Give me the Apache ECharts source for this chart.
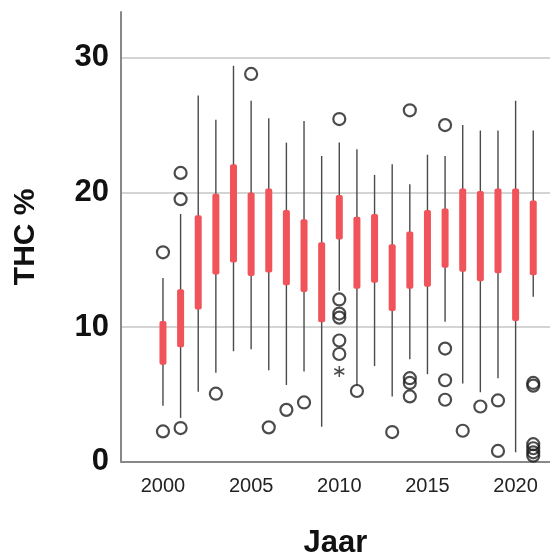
<!DOCTYPE html>
<html>
<head>
<meta charset="utf-8">
<script src="https://cdn.jsdelivr.net/npm/echarts@6/dist/echarts.min.js"></script>
<style>
html,body{margin:0;padding:0;background:#fff;}
#chart{width:550px;height:557px;}
</style>
</head>
<body>
<div id="chart"></div>
<script>
// Box data per year: whisker low, Q1, Q3, whisker high
const years      = [2000,2001,2002,2003,2004,2005,2006,2007,2008,2009,2010,2011,2012,2013,2014,2015,2016,2017,2018,2019,2020,2021];
const whiskerLow = [4.15,3.25,5.2,6.6,8.2,8.35,6.8,5.7,6.7,2.6,12.7,5.7,7.1,4.85,7.6,6.5,10.4,5.8,5.15,6.2,0.7,12.25];
const q1         = [7.2,8.5,11.3,13.9,14.8,13.8,14.05,13.1,12.6,10.35,16.5,12.85,13.3,11.2,12.85,13.0,14.4,14.1,13.4,14.0,10.45,13.85];
const q3         = [10.45,12.8,18.3,19.9,22.1,20.0,20.3,18.7,18.0,16.3,19.8,18.2,18.4,16.15,17.1,18.7,18.8,20.3,20.1,20.3,20.3,19.4];
const whiskerHigh= [13.65,18.4,27.2,25.4,29.4,26.8,25.5,23.7,25.3,22.7,23.7,23.2,21.3,22.1,20.6,22.8,22.7,25.0,24.6,24.6,26.8,24.6];

// Outliers (circles) as [year, value]
const outliers = [
  [2000,15.55],[2000,2.25],
  [2001,21.45],[2001,19.5],[2001,2.5],
  [2003,5.05],
  [2005,28.8],
  [2006,2.55],
  [2007,3.85],
  [2008,4.4],
  [2010,25.45],[2010,12.05],[2010,11.0],[2010,10.7],[2010,9.0],[2010,8.0],
  [2011,5.25],
  [2013,2.2],
  [2014,26.1],[2014,6.2],[2014,5.85],[2014,4.85],
  [2016,25.0],[2016,8.4],[2016,6.05],[2016,4.6],
  [2017,2.3],
  [2018,4.1],
  [2019,4.55],[2019,0.8],
  [2021,5.85],[2021,5.65],[2021,1.3],[2021,1.0],[2021,0.7],[2021,0.45]
];
// Extreme values (asterisk) as [year, value]
const extremes = [[2010,6.7]];

const yTicks = [0,10,20,30];
const xLabels = [2000,2005,2010,2015,2020];

const boxData = years.map((y,i)=>[y, whiskerLow[i], q1[i], q3[i], whiskerHigh[i]]);
const FONT = '"Liberation Sans", Arial, Helvetica, sans-serif';

const chart = echarts.init(document.getElementById('chart'), null, {renderer:'canvas'});
chart.setOption({
  animation:false,
  backgroundColor:'#fff',
  grid:{left:121, right:0, top:12, bottom:95.3, containLabel:false, outerBoundsMode:'none'},
  xAxis:{
    type:'value', min:1997.62, max:2021.95,
    name:'Jaar', nameLocation:'middle', nameGap:66,
    nameTextStyle:{fontSize:31, fontWeight:'bold', color:'#111', fontFamily:FONT},
    axisLine:{show:true, onZero:false, lineStyle:{color:'#888', width:2}},
    axisTick:{show:false},
    splitLine:{show:false},
    axisLabel:{customValues:xLabels, formatter:v=>String(v), fontSize:20, color:'#222', margin:15, fontFamily:FONT}
  },
  yAxis:{
    type:'value', min:0, max:33.4, interval:10,
    name:'THC %', nameLocation:'middle', nameGap:80,
    nameTextStyle:{fontSize:30, fontWeight:'bold', color:'#111', fontFamily:FONT},
    axisLine:{show:true, onZero:false, lineStyle:{color:'#888', width:2}},
    axisTick:{show:false},
    splitLine:{show:true, showMaxLine:false, showMinLine:false, lineStyle:{color:'#d4d4d4', width:2}},
    axisLabel:{formatter:v=>(yTicks.indexOf(v)>=0?String(v):''), fontSize:31, fontWeight:'bold', color:'#111', margin:12, fontFamily:FONT}
  },
  series:[
    {
      type:'custom',
      data:boxData,
      encode:{x:0, y:[1,2,3,4]},
      z:2,
      renderItem:function(params, api){
        const x = api.value(0);
        const lo = api.coord([x, api.value(1)]);
        const a = api.coord([x, api.value(2)]);
        const b = api.coord([x, api.value(3)]);
        const hi = api.coord([x, api.value(4)]);
        const w = 7;
        return {type:'group', children:[
          {type:'line', shape:{x1:lo[0], y1:lo[1], x2:hi[0], y2:hi[1]}, style:{stroke:'#4a4a4a', lineWidth:1.4}},
          {type:'rect', shape:{x:b[0]-w/2, y:b[1], width:w, height:a[1]-b[1], r:2}, style:{fill:'#f0545a'}}
        ]};
      }
    },
    {
      type:'scatter',
      data:outliers,
      symbol:'circle',
      symbolSize:12,
      z:3,
      itemStyle:{color:'rgba(0,0,0,0)', borderColor:'#1e1e1e', borderWidth:2.2}
    },
    {
      type:'scatter',
      data:extremes,
      symbol:'path://M0,-10L0,10M-8.66,-5L8.66,5M-8.66,5L8.66,-5',
      symbolSize:[10,11],
      z:3,
      itemStyle:{color:'none', borderColor:'#222', borderWidth:1.6}
    }
  ]
});
</script>
</body>
</html>
